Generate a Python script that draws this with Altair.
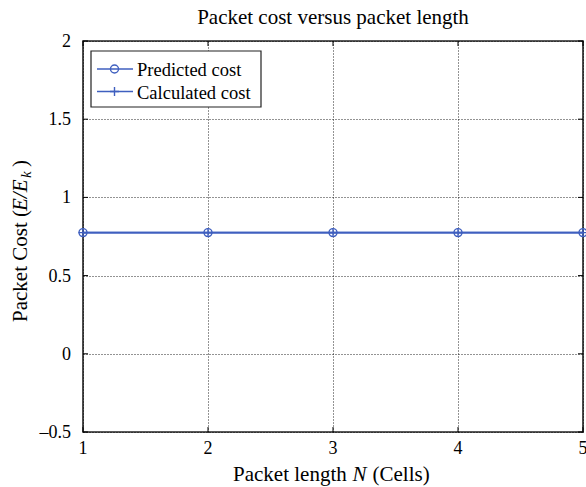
import altair as alt
import pandas as pd

# ---- data ----
packet_length = [1, 2, 3, 4, 5]
predicted_cost = [0.775, 0.775, 0.775, 0.775, 0.775]
calculated_cost = [0.775, 0.775, 0.775, 0.775, 0.775]
series_names = ["Predicted cost", "Calculated cost"]
x_ticks = [1, 2, 3, 4, 5]
x_tick_labels = ["1", "2", "3", "4", "5"]
y_ticks = [-0.5, 0, 0.5, 1, 1.5, 2]
y_tick_labels = ["\u20130.5", "0", "0.5", "1", "1.5", "2"]
chart_title = "Packet cost versus packet length"

BLUE = "#3f5fbf"
FONT = "Liberation Serif"
W, H = 500, 391
PLUS = "M-1,0L1,0M0,-1L0,1"

rows = []
for n, p in zip(packet_length, predicted_cost):
    rows.append({"series": series_names[0], "N": n, "cost": p})
for n, c in zip(packet_length, calculated_cost):
    rows.append({"series": series_names[1], "N": n, "cost": c})
df = pd.DataFrame(rows)

xscale = alt.Scale(domain=[1, 5], nice=False, zero=False)
yscale = alt.Scale(domain=[-0.5, 2], nice=False, zero=False)

axis_common = dict(title=None, grid=True, gridDash=[1, 2], gridColor="#000000",
                   gridOpacity=0.85, gridWidth=1, ticks=False, domain=False,
                   labels=False)
xaxis = alt.Axis(values=x_ticks, **axis_common)
yaxis = alt.Axis(values=y_ticks, **axis_common)

base = alt.Chart(df)

lines = base.mark_line(color=BLUE, strokeWidth=1.6, clip=False).encode(
    x=alt.X("N:Q", scale=xscale, axis=xaxis),
    y=alt.Y("cost:Q", scale=yscale, axis=yaxis),
    detail="series:N",
)
circles = base.transform_filter(alt.datum.series == series_names[0]).mark_point(
    shape="circle", filled=False, size=64, strokeWidth=1.4, color=BLUE, opacity=1, clip=False
).encode(x=alt.X("N:Q", scale=xscale, axis=xaxis), y=alt.Y("cost:Q", scale=yscale, axis=yaxis))
pluses = base.transform_filter(alt.datum.series == series_names[1]).mark_point(
    shape=PLUS, filled=False, size=81, strokeWidth=1.4, color=BLUE, opacity=1, clip=False
).encode(x=alt.X("N:Q", scale=xscale, axis=xaxis), y=alt.Y("cost:Q", scale=yscale, axis=yaxis))

# inward ticks (MATLAB style) and tick labels, placed through the scales
xt = pd.DataFrame({"N": x_ticks, "lab": x_tick_labels})
yt = pd.DataFrame({"cost": y_ticks, "lab": y_tick_labels})
tick_layers = []
for y0, y1 in [(0, 5), (H - 5, H)]:
    tick_layers.append(alt.Chart(xt).mark_rule(color="#000000", strokeWidth=1).encode(
        x=alt.X("N:Q", scale=xscale, axis=xaxis), y=alt.value(y0), y2=alt.value(y1)))
for x0, x1 in [(0, 5), (W - 5, W)]:
    tick_layers.append(alt.Chart(yt).mark_rule(color="#000000", strokeWidth=1).encode(
        y=alt.Y("cost:Q", scale=yscale, axis=yaxis), x=alt.value(x0), x2=alt.value(x1)))
tick_layers.append(alt.Chart(xt).mark_text(align="center", baseline="alphabetic", font=FONT,
                                           fontSize=18, color="#000000").encode(
    x=alt.X("N:Q", scale=xscale, axis=xaxis), y=alt.value(H + 22), text="lab:N"))
tick_layers.append(alt.Chart(yt).mark_text(align="right", baseline="alphabetic", font=FONT,
                                           fontSize=18, color="#000000", dy=6).encode(
    y=alt.Y("cost:Q", scale=yscale, axis=yaxis), x=alt.value(-12), text="lab:N"))

# legend (drawn manually: line + marker + label)
one = pd.DataFrame({"a": [0]})
leg_box = alt.Chart(one).mark_rect(fill="white", stroke="#222222", strokeWidth=1.2).encode(
    x=alt.value(8), x2=alt.value(178), y=alt.value(10), y2=alt.value(66))
leg_layers = [leg_box]
row_y = [28, 50.5]
row_shapes = ["circle", PLUS]
row_sizes = [64, 81]
for name, ry, shp, sz in zip(series_names, row_y, row_shapes, row_sizes):
    d = pd.DataFrame({"label": [name]})
    leg_layers.append(alt.Chart(d).mark_rule(color=BLUE, strokeWidth=1.6).encode(
        x=alt.value(14), x2=alt.value(50), y=alt.value(ry)))
    leg_layers.append(alt.Chart(d).mark_point(shape=shp, filled=False, size=sz,
                                              strokeWidth=1.4, color=BLUE, opacity=1).encode(
        x=alt.value(31.5), y=alt.value(ry)))
    leg_layers.append(alt.Chart(d).mark_text(align="left", baseline="middle", font=FONT,
                                             fontSize=18.5, color="#000000").encode(
        x=alt.value(54), y=alt.value(ry + 1), text="label:N"))

# texts with italic parts
def txt(s, x, y, italic=False, size=21, angle=0, align="left"):
    kw = dict(align=align, baseline="alphabetic", font=FONT, fontSize=size,
              color="#000000", fontStyle="italic" if italic else "normal")
    if angle:
        kw["angle"] = angle
    return alt.Chart(pd.DataFrame({"s": [s]})).mark_text(**kw).encode(
        x=alt.value(x), y=alt.value(y), text="s:N")

title_layers = [txt(chart_title, W / 2, -17, align="center")]
xt_y = 439.5
title_layers += [
    txt("Packet length", 150, xt_y),
    txt("N", 269.5, xt_y, italic=True),
    txt("(Cells)", 289.5, xt_y),
]
yx = -56.5
title_layers += [
    txt("Packet Cost (", yx, 281, angle=270),
    txt("E/E", yx, 170, italic=True, angle=270),
    txt("k", yx + 4.5, 137, italic=True, size=15, angle=270),
    txt(")", yx, 126, angle=270),
]

chart = alt.layer(
    lines, *tick_layers, circles, pluses, *leg_layers, *title_layers
).properties(
    width=W, height=H,
    background="white",
    autosize=alt.AutoSizeParams(type="none"),
    padding={"left": 83, "top": 41, "right": 3, "bottom": 55},
).configure_view(
    stroke="#222222", strokeWidth=1.6
)

chart.save("out.html", embed_options={"renderer": "svg", "actions": False})
